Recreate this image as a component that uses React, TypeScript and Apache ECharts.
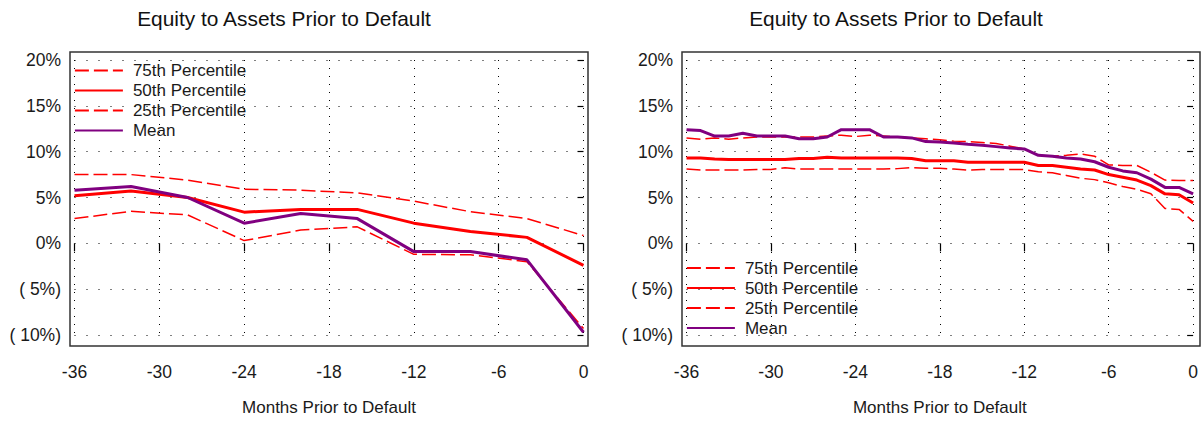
import React, { useEffect, useRef } from "react";
import * as echarts from "echarts";

const TITLE = "Equity to Assets Prior to Default";
const X_NAME = "Months Prior to Default";
const SERIES_NAMES = ["75th Percentile", "50th Percentile", "25th Percentile", "Mean"];
const X_TICKS = [-36, -30, -24, -18, -12, -6, 0];
const Y_TICKS = [-10, -5, 0, 5, 10, 15, 20];

// Left chart: quarterly observations
const leftMonths = [-36, -32, -28, -24, -20, -16, -12, -8, -4, 0];
const left75 = [7.5, 7.5, 6.9, 5.9, 5.8, 5.5, 4.6, 3.45, 2.7, 0.85];
const left50 = [5.2, 5.7, 5.0, 3.4, 3.7, 3.7, 2.2, 1.3, 0.65, -2.4];
const left25 = [2.7, 3.5, 3.1, 0.3, 1.45, 1.8, -1.2, -1.25, -2.0, -9.3];
const leftMean = [5.8, 6.2, 5.0, 2.2, 3.25, 2.7, -0.9, -0.9, -1.8, -9.7];

// Right chart: monthly observations
const rightMonths = [
  -36, -35, -34, -33, -32, -31, -30, -29, -28, -27, -26, -25, -24, -23, -22, -21, -20, -19, -18,
  -17, -16, -15, -14, -13, -12, -11, -10, -9, -8, -7, -6, -5, -4, -3, -2, -1, 0,
];
const right75 = [
  11.5, 11.35, 11.5, 11.35, 11.5, 11.6, 11.6, 11.6, 11.6, 11.6, 11.7, 11.8, 11.65, 11.8, 11.7,
  11.6, 11.5, 11.4, 11.3, 11.15, 11.1, 11.0, 10.9, 10.6, 10.3, 9.6, 9.5, 9.6, 9.75, 9.5, 8.55,
  8.5, 8.5, 7.75, 6.9, 6.85, 6.85,
];
const right50 = [
  9.3, 9.3, 9.2, 9.15, 9.15, 9.15, 9.15, 9.15, 9.25, 9.25, 9.4, 9.3, 9.3, 9.3, 9.3, 9.3, 9.25,
  9.0, 9.0, 9.0, 8.85, 8.85, 8.85, 8.85, 8.85, 8.5, 8.5, 8.3, 8.1, 8.0, 7.5, 7.2, 6.9, 6.3, 5.4,
  5.3, 4.4,
];
const right25 = [
  8.1, 8.0, 8.0, 8.0, 8.0, 8.05, 8.05, 8.25, 8.1, 8.1, 8.1, 8.1, 8.1, 8.1, 8.1, 8.15, 8.25, 8.2,
  8.2, 8.1, 8.0, 8.05, 8.05, 8.05, 8.05, 7.8, 7.7, 7.4, 7.1, 6.95, 6.6, 6.2, 5.9, 5.4, 3.8, 3.7,
  2.4,
];
const rightMean = [
  12.4, 12.3, 11.7, 11.7, 12.0, 11.7, 11.7, 11.7, 11.4, 11.4, 11.6, 12.4, 12.4, 12.4, 11.6, 11.6,
  11.5, 11.1, 11.05, 10.95, 10.8, 10.7, 10.55, 10.4, 10.3, 9.6, 9.5, 9.3, 9.2, 8.9, 8.3, 7.9, 7.7,
  7.0, 6.1, 6.1, 5.4,
];

const FONT = "'Liberation Sans', Arial, Helvetica, sans-serif";
const RED = "#ff0000";
const PURPLE = "#800080";

const zip = (xs: number[], ys: number[]) => xs.map((x, i) => [x, ys[i]]);

const yFmt = (v: number) => (v < 0 ? `( ${-v}%)` : `${v}%`);

function makeAxes(gridIndex: number) {
  const xAxis = {
    gridIndex,
    type: "value",
    min: X_TICKS[0],
    max: X_TICKS[X_TICKS.length - 1],
    interval: 6,
    offset: 8,
    name: X_NAME,
    nameLocation: "middle",
    nameGap: 56,
    nameTextStyle: { fontFamily: FONT, fontSize: 17, color: "#1a1a1a" },
    axisLine: { show: false },
    axisTick: { show: true, length: 8, lineStyle: { color: "#000", width: 1.2 } },
    axisLabel: { margin: 20, fontFamily: FONT, fontSize: 17.5, color: "#1a1a1a" },
    splitLine: { show: true, lineStyle: { color: "#000", width: 1, type: [1, 7] } },
  };
  const yAxis = {
    gridIndex,
    type: "value",
    min: Y_TICKS[0],
    max: Y_TICKS[Y_TICKS.length - 1],
    interval: 5,
    offset: 4.5,
    axisLine: { show: false },
    axisTick: { show: true, length: 6, lineStyle: { color: "#000", width: 1.2 } },
    axisLabel: { margin: 9, fontFamily: FONT, fontSize: 17.5, color: "#1a1a1a", formatter: yFmt },
    splitLine: { show: true, lineStyle: { color: "#000", width: 1, type: [1, 11] } },
  };
  return { xAxis, yAxis };
}

function makeSeries(idx: number, months: number[], p75: number[], p50: number[], p25: number[], mean: number[]) {
  const base = { type: "line", xAxisIndex: idx, yAxisIndex: idx, symbol: "none", silent: true };
  return [
    { ...base, name: SERIES_NAMES[0], data: zip(months, p75), lineStyle: { color: RED, width: 1.5, type: [14, 5] }, itemStyle: { color: RED } },
    { ...base, name: SERIES_NAMES[1], data: zip(months, p50), lineStyle: { color: RED, width: 3 }, itemStyle: { color: RED } },
    { ...base, name: SERIES_NAMES[2], data: zip(months, p25), lineStyle: { color: RED, width: 1.5, type: [14, 5] }, itemStyle: { color: RED } },
    { ...base, name: SERIES_NAMES[3], data: zip(months, mean), lineStyle: { color: PURPLE, width: 3 }, itemStyle: { color: PURPLE } },
  ];
}

export default function App() {
  const ref = useRef<HTMLDivElement>(null);
  useEffect(() => {
    if (!ref.current) return;
    const chart = echarts.init(ref.current, undefined, { renderer: "svg" });
    const a0 = makeAxes(0);
    const a1 = makeAxes(1);
    const legendBase = {
      orient: "vertical",
      itemWidth: 48,
      itemHeight: 14,
      itemGap: 2,
      selectedMode: false,
      itemStyle: { opacity: 0, borderWidth: 0 },
      lineStyle: { width: 1.8 },
      textStyle: { fontFamily: FONT, fontSize: 17, lineHeight: 18, color: "#1a1a1a", padding: [0, 0, 0, 5] },
      data: SERIES_NAMES,
      padding: 0,
    };
    chart.setOption({
      animation: false,
      backgroundColor: "#ffffff",
      grid: [
        { left: 74.5, top: 60, width: 509, height: 278 },
        { left: 686.5, top: 60, width: 509.5, height: 278 },
      ],
      xAxis: [a0.xAxis, a1.xAxis],
      yAxis: [a0.yAxis, a1.yAxis],
      legend: [
        { ...legendBase, left: 74, top: 61.5 },
        { ...legendBase, left: 686, top: 259 },
      ],
      series: [
        ...makeSeries(0, leftMonths, left75, left50, left25, leftMean),
        ...makeSeries(1, rightMonths, right75, right50, right25, rightMean),
      ],
      graphic: [
        { type: "rect", shape: { x: 70, y: 52, width: 518, height: 294 }, style: { fill: "none", stroke: "#333", lineWidth: 1.5 }, silent: true, z: 100 },
        { type: "rect", shape: { x: 682, y: 52, width: 518, height: 294 }, style: { fill: "none", stroke: "#333", lineWidth: 1.5 }, silent: true, z: 100 },
        { type: "text", x: 284, y: 18, style: { text: TITLE, fontFamily: FONT, fontSize: 20.9, fill: "#111", textAlign: "center", textVerticalAlign: "middle" }, silent: true },
        { type: "text", x: 896, y: 18, style: { text: TITLE, fontFamily: FONT, fontSize: 20.9, fill: "#111", textAlign: "center", textVerticalAlign: "middle" }, silent: true },
      ],
    });
    return () => chart.dispose();
  }, []);
  return (
    <div
      ref={ref}
      style={{ position: "absolute", left: 0, top: 0, width: 1201, height: 421, background: "#fff" }}
    />
  );
}
